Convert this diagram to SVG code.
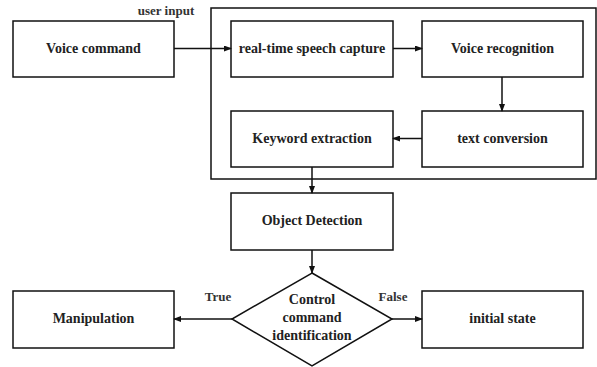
<svg xmlns="http://www.w3.org/2000/svg" width="597" height="367" viewBox="0 0 597 367">
<style>
.box{fill:#fff;stroke:#111;stroke-width:1.5}
.t{font-family:"Liberation Serif","Times New Roman",serif;font-weight:bold;font-size:14px;fill:#222;text-anchor:middle}
.lbl{font-family:"Liberation Serif","Times New Roman",serif;font-weight:bold;font-size:13px;fill:#333;text-anchor:middle}
.c{stroke:#111;stroke-width:1.5;fill:none;marker-end:url(#ah)}
</style>
<defs>
<marker id="ah" markerWidth="8" markerHeight="6" refX="7" refY="3" orient="auto" markerUnits="userSpaceOnUse">
<path d="M0,0 L8,3 L0,6 Z" fill="#111"/>
</marker>
</defs>
<rect width="597" height="367" fill="#fff"/>
<g id="container"><rect class="box" x="211" y="8" width="385" height="171"/></g>
<g id="voice-command"><rect class="box" x="13" y="21" width="161" height="56"/><text class="t" x="93.5" y="53">Voice command</text></g>
<g id="speech-capture"><rect class="box" x="231" y="21" width="162" height="56"/><text class="t" x="312" y="53">real-time speech capture</text></g>
<g id="voice-recognition"><rect class="box" x="422" y="21" width="161" height="56"/><text class="t" x="502.5" y="53">Voice recognition</text></g>
<g id="text-conversion"><rect class="box" x="422" y="111" width="161" height="56"/><text class="t" x="502.5" y="143">text conversion</text></g>
<g id="keyword-extraction"><rect class="box" x="231" y="111" width="162" height="56"/><text class="t" x="312" y="143">Keyword extraction</text></g>
<g id="object-detection"><rect class="box" x="231" y="193" width="162" height="57"/><text class="t" x="312" y="225">Object Detection</text></g>
<g id="control-identification"><polygon class="box" points="312,273 392,319 312,366 232,319"/><text class="t" x="312" y="304">Control</text><text class="t" x="312" y="322">command</text><text class="t" x="312" y="340">identification</text></g>
<g id="manipulation"><rect class="box" x="13" y="291" width="161" height="57"/><text class="t" x="93.5" y="323">Manipulation</text></g>
<g id="initial-state"><rect class="box" x="422" y="291" width="161" height="57"/><text class="t" x="502.5" y="323">initial state</text></g>
<g id="connectors">
<line class="c" x1="174" y1="48.5" x2="231" y2="48.5"/>
<line class="c" x1="393" y1="48.5" x2="422" y2="48.5"/>
<line class="c" x1="502" y1="77" x2="502" y2="111"/>
<line class="c" x1="422" y1="138.5" x2="393" y2="138.5"/>
<line class="c" x1="312" y1="167" x2="312" y2="193"/>
<line class="c" x1="312" y1="250" x2="312" y2="273"/>
<line class="c" x1="232" y1="319" x2="174" y2="319"/>
<line class="c" x1="392" y1="319" x2="422" y2="319"/>
<text class="lbl" x="166" y="15">user input</text>
<text class="lbl" x="218" y="301">True</text>
<text class="lbl" x="393" y="301">False</text>
</g>
</svg>
